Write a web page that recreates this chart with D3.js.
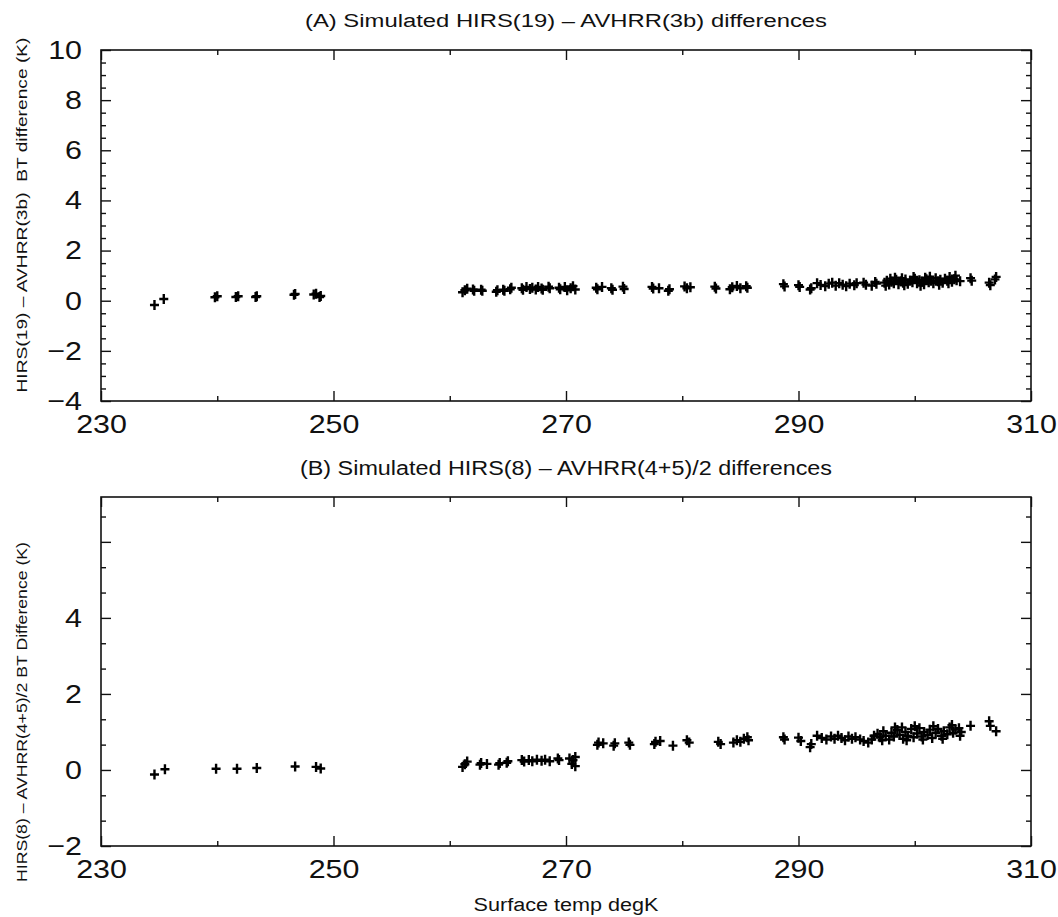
<!DOCTYPE html>
<html><head><meta charset="utf-8">
<script src="https://cdn.jsdelivr.net/npm/d3@7"></script>
<style>body{margin:0;background:#fff}svg{display:block}</style>
</head><body><svg id="c" width="1058" height="917"></svg>
<script>
// ---------- data ----------
const surfaceTempA = [234.6,235.4,239.8,240.0,241.6,241.8,243.3,243.4,246.6,246.7,248.3,248.5,248.8,248.9,
 261.1,261.3,261.5,262.0,262.1,262.7,262.8,264.0,264.1,264.6,264.7,265.2,265.3,266.2,266.3,266.6,266.9,267.1,267.4,267.6,267.9,268.0,268.5,268.6,269.4,269.5,269.9,270.1,270.4,270.6,270.8,
 272.6,272.7,273.1,273.9,274.0,274.9,275.0,277.4,277.5,278.0,278.8,278.9,280.2,280.4,280.7,282.8,282.9,284.1,284.3,284.7,285.0,285.5,285.6,
 288.7,288.8,290.0,290.1,291.0,291.1,291.6,291.9,292.3,292.6,292.9,293.2,293.5,293.8,294.1,294.4,294.8,295.0,295.6,295.8,296.3,296.6,296.7,
 297.4,297.6,297.8,298.0,298.2,298.4,298.6,298.8,299.0,299.2,299.4,299.6,299.8,300.0,300.2,300.4,300.6,300.8,301.0,301.2,301.4,301.6,301.8,302.0,302.2,302.4,302.6,302.8,303.0,303.2,303.4,303.6,303.9,
 297.5,297.9,298.3,298.9,299.1,299.9,300.5,300.9,301.3,302.1,302.9,303.5,
 304.8,304.9,306.4,306.5,306.9,307.0];
const diffA = [-0.17,0.07,0.14,0.18,0.15,0.18,0.15,0.18,0.24,0.27,0.25,0.28,0.15,0.19,
 0.34,0.42,0.48,0.45,0.40,0.44,0.40,0.36,0.42,0.44,0.40,0.46,0.52,0.50,0.44,0.55,0.47,0.52,0.45,0.55,0.49,0.44,0.56,0.50,0.52,0.46,0.55,0.42,0.50,0.58,0.45,
 0.52,0.46,0.55,0.50,0.44,0.56,0.47,0.55,0.49,0.50,0.40,0.46,0.57,0.50,0.54,0.56,0.49,0.46,0.54,0.59,0.50,0.58,0.52,
 0.66,0.57,0.62,0.55,0.45,0.50,0.70,0.63,0.58,0.68,0.72,0.60,0.70,0.64,0.58,0.68,0.62,0.70,0.72,0.64,0.60,0.75,0.68,
 0.72,0.80,0.65,0.76,0.70,0.84,0.66,0.78,0.72,0.85,0.68,0.80,0.74,0.88,0.70,0.82,0.76,0.66,0.86,0.74,0.80,0.70,0.90,0.78,0.84,0.72,0.88,0.80,0.95,0.76,0.86,0.82,0.78,
 0.60,0.88,0.92,0.90,0.62,0.95,0.60,0.92,0.96,0.64,0.70,1.00,
 0.90,0.80,0.72,0.62,0.85,0.95];

const surfaceTempB = [234.6,235.5,239.9,241.7,243.4,246.7,248.5,248.9,
 261.1,261.3,261.5,262.6,262.7,263.2,264.2,264.3,264.9,265.0,266.2,266.4,266.8,267.1,267.5,267.9,268.2,268.6,269.3,269.4,270.3,270.5,270.6,270.8,270.8,
 272.7,272.8,273.2,274.1,274.2,275.4,275.5,277.6,277.7,278.1,279.2,280.4,280.6,283.1,283.3,284.4,284.7,285.0,285.3,285.6,285.7,
 288.7,288.8,290.0,290.2,291.0,291.1,291.6,292.0,292.4,292.8,293.1,293.4,293.7,294.0,294.3,294.6,294.9,295.3,295.6,296.0,296.3,
 296.8,297.0,297.3,297.5,297.8,298.0,298.2,298.5,298.7,299.0,299.2,299.4,299.7,299.9,300.2,300.4,300.6,300.8,301.1,301.3,301.5,301.8,302.0,302.3,302.5,302.8,303.0,303.3,303.5,303.8,304.0,
 296.5,297.2,298.3,298.9,299.3,300.0,300.7,301.6,302.4,303.2,303.9,
 304.8,306.4,306.5,307.0];
const diffB = [-0.12,0.02,0.03,0.03,0.05,0.09,0.08,0.04,
 0.08,0.15,0.22,0.14,0.18,0.16,0.14,0.18,0.19,0.23,0.26,0.22,0.26,0.23,0.27,0.24,0.27,0.23,0.30,0.26,0.30,0.16,0.26,0.34,0.10,
 0.66,0.72,0.70,0.64,0.70,0.72,0.66,0.68,0.74,0.76,0.64,0.78,0.72,0.74,0.68,0.72,0.78,0.74,0.82,0.86,0.78,
 0.86,0.80,0.85,0.76,0.60,0.68,0.90,0.84,0.80,0.88,0.82,0.90,0.84,0.78,0.88,0.82,0.86,0.80,0.76,0.72,0.80,
 0.95,0.86,1.02,0.90,0.80,0.98,0.88,1.05,0.92,0.82,1.00,0.90,1.08,0.86,0.96,1.10,0.88,1.00,0.92,1.06,0.84,0.98,1.08,0.90,1.02,0.94,1.12,0.98,1.06,1.10,1.00,
 0.90,0.78,1.12,1.12,0.78,1.15,0.80,1.15,0.82,1.18,0.90,
 1.16,1.28,1.16,1.02];

const xDomain = [230, 310];
const xLabelTicks = [230, 250, 270, 290, 310];
const xMinorTicks = [240, 260, 280, 300];
const yDomainA = [-4, 10];
const yDomainB = [-2, 7.18];
const yLabelTicksA = [-4, -2, 0, 2, 4, 6, 8, 10];
const yLabelTicksB = [-2, 0, 2, 4];
const yMajorTicksB = [-2, 0, 2, 4, 6];

const titleA = "(A) Simulated HIRS(19) \u2013 AVHRR(3b) differences";
const titleB = "(B) Simulated HIRS(8) \u2013 AVHRR(4+5)/2 differences";
const yTitleA = "HIRS(19) \u2013 AVHRR(3b)\u00a0 BT difference (K)";
const yTitleB = "HIRS(8) \u2013 AVHRR(4+5)/2 BT Difference (K)";
const xTitle = "Surface temp degK";

// ---------- drawing ----------
const svg = d3.select("#c");
const FONT = "'Liberation Sans', Arial, Helvetica, sans-serif";
const L = 101, R = 1031, SX = 1.17;

function axisG(g, fn, scale, vals, size, tr) {
  const a = g.append("g").attr("transform", tr)
    .call(fn(scale).tickValues(vals).tickSize(size).tickSizeOuter(0).tickFormat(""));
  a.select(".domain").remove();
  a.selectAll("line").attr("stroke", "#111").attr("stroke-width", 1.4);
  return a;
}

function panel(cfg) {
  const x = d3.scaleLinear(xDomain, [L, R]);
  const y = d3.scaleLinear(cfg.yDomain, [cfg.bottom, cfg.top]);
  const g = svg.append("g");

  const yMinor = d3.range(cfg.yDomain[0], cfg.yDomain[1] + 0.001, cfg.yStep)
    .filter(v => !cfg.yMajor.some(m => Math.abs(m - v) < 1e-6));
  axisG(g, d3.axisBottom, x, xMinorTicks, -5, `translate(0,${cfg.bottom})`);
  axisG(g, d3.axisBottom, x, xLabelTicks, -10, `translate(0,${cfg.bottom})`);
  axisG(g, d3.axisTop, x, xMinorTicks, -5, `translate(0,${cfg.top})`);
  axisG(g, d3.axisTop, x, xLabelTicks, -10, `translate(0,${cfg.top})`);
  axisG(g, d3.axisLeft, y, yMinor, -5, `translate(${L},0)`);
  axisG(g, d3.axisLeft, y, cfg.yMajor, -10, `translate(${L},0)`);
  axisG(g, d3.axisRight, y, yMinor, -5, `translate(${R},0)`);
  axisG(g, d3.axisRight, y, cfg.yMajor, -10, `translate(${R},0)`);

  const xl = g.append("g").attr("transform", `translate(0,${cfg.bottom})`)
    .call(d3.axisBottom(x).tickValues(xLabelTicks).tickSize(0).tickPadding(14).tickFormat(d3.format("d")));
  xl.select(".domain").remove();
  xl.selectAll("text").attr("font-family", FONT).attr("font-size", 26).attr("fill", "#111")
    .attr("transform", `scale(${SX},1)`);

  const yl = g.append("g").attr("transform", `translate(${L},0)`)
    .call(d3.axisLeft(y).tickValues(cfg.yLabels).tickSize(0).tickPadding(19).tickFormat(d3.format("d")));
  yl.select(".domain").remove();
  yl.selectAll("text").attr("font-family", FONT).attr("font-size", 26).attr("fill", "#111")
    .attr("x", -19 / SX).attr("transform", `scale(${SX},1)`);

  g.append("rect").attr("x", L).attr("y", cfg.top).attr("width", R - L).attr("height", cfg.bottom - cfg.top)
    .attr("fill", "none").attr("stroke", "#111").attr("stroke-width", 1.6);

  g.append("text").attr("x", 566).attr("y", cfg.titleY).attr("text-anchor", "middle")
    .attr("font-family", FONT).attr("font-size", cfg.titleSize).attr("fill", "#111")
    .attr("textLength", cfg.titleLen).attr("lengthAdjust", "spacingAndGlyphs").text(cfg.title);

  g.append("text").attr("transform", `translate(27,${cfg.yTitleY}) rotate(-90)`).attr("text-anchor", "middle")
    .attr("font-family", FONT).attr("font-size", 15).attr("fill", "#111")
    .attr("textLength", cfg.yTitleLen).attr("lengthAdjust", "spacingAndGlyphs").text(cfg.yTitle);

  g.append("g").selectAll("path").data(d3.zip(cfg.xs, cfg.ys)).join("path")
    .attr("d", "M-4.5,0H4.5M0,-5V5")
    .attr("transform", d => `translate(${x(d[0])},${y(d[1])})`)
    .attr("fill", "none").attr("stroke", "#000").attr("stroke-width", 2.4);
}

panel({top: 50, bottom: 401, yDomain: yDomainA, yStep: 0.5, yMajor: yLabelTicksA, yLabels: yLabelTicksA,
  xs: surfaceTempA, ys: diffA, title: titleA, titleY: 27, titleSize: 18, titleLen: 522,
  yTitle: yTitleA, yTitleY: 215, yTitleLen: 355});
panel({top: 497, bottom: 846, yDomain: yDomainB, yStep: 2 / 3, yMajor: yMajorTicksB, yLabels: yLabelTicksB,
  xs: surfaceTempB, ys: diffB, title: titleB, titleY: 475, titleSize: 20, titleLen: 532,
  yTitle: yTitleB, yTitleY: 712, yTitleLen: 340});

svg.append("text").attr("x", 566).attr("y", 911).attr("text-anchor", "middle")
  .attr("font-family", FONT).attr("font-size", 18).attr("fill", "#111")
  .attr("textLength", 185).attr("lengthAdjust", "spacingAndGlyphs").text(xTitle);
</script></body></html>
